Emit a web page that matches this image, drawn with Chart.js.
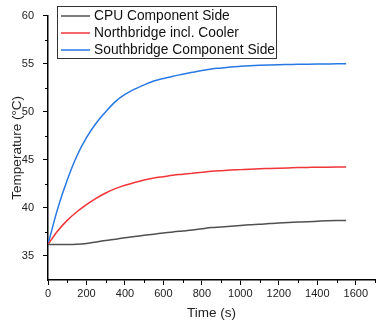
<!DOCTYPE html>
<html>
<head>
<meta charset="utf-8">
<script src="https://cdn.jsdelivr.net/npm/chart.js@4/dist/chart.umd.min.js"></script>
<style>
    html, body { margin: 0; padding: 0; background: #fff; }
    #wrap { width: 377px; height: 324px; }
</style>
</head>
<body>
<div id="wrap"><canvas id="tempChart" width="377" height="324"></canvas></div>
<script>
    // 時間 (s)
    const timeSec = [0, 50, 100, 150, 200, 250, 300, 350, 400, 450, 500, 550, 600, 650, 700, 750,
        800, 850, 900, 950, 1000, 1050, 1100, 1150, 1200, 1250, 1300, 1350, 1400, 1450, 1500, 1550];

    // 各系列の温度 (°C)
    const cpuSide = [36.2, 36.2, 36.2, 36.22, 36.3, 36.45, 36.62, 36.75, 36.9, 37.02, 37.15, 37.27,
        37.38, 37.5, 37.6, 37.7, 37.83, 37.95, 38.02, 38.1, 38.18, 38.25, 38.3, 38.37, 38.42, 38.47,
        38.52, 38.57, 38.61, 38.65, 38.68, 38.7];
    const northbridge = [36.2, 37.6, 38.7, 39.6, 40.35, 41.0, 41.55, 42.0, 42.35, 42.65, 42.9, 43.1,
        43.25, 43.4, 43.5, 43.6, 43.7, 43.8, 43.87, 43.93, 43.98, 44.03, 44.07, 44.1, 44.13, 44.16,
        44.19, 44.21, 44.23, 44.24, 44.25, 44.26];
    const southbridge = [36.2, 39.9, 42.9, 45.4, 47.3, 48.8, 50.0, 51.05, 51.8, 52.35, 52.8, 53.2,
        53.45, 53.7, 53.9, 54.1, 54.3, 54.45, 54.55, 54.65, 54.72, 54.78, 54.83, 54.87, 54.9, 54.92,
        54.94, 54.95, 54.96, 54.97, 54.98, 54.98];

    const seriesLabels = ['CPU Component Side', 'Northbridge incl. Cooler', 'Southbridge Component Side'];
    const seriesColors = ['rgb(80, 80, 80)', 'rgb(240, 52, 56)', 'rgb(40, 120, 228)'];

    const FONT = 'Arial, "Liberation Sans", sans-serif';

    function toPoints(values) {
        return values.map((v, i) => ({ x: timeSec[i], y: v }));
    }

    /**
     * 副目盛り（短い目盛り）と凡例ボックスを描画
     */
    const extrasPlugin = {
        id: 'extras',
        afterDraw(chart) {
            const ctx = chart.ctx;
            const xs = chart.scales.x;
            const ys = chart.scales.y;
            const area = chart.chartArea;

            ctx.save();
            ctx.strokeStyle = '#000';
            ctx.lineWidth = 1;
            // x 副目盛り
            for (let v = 100; v <= 1700; v += 200) {
                const px = Math.round(xs.getPixelForValue(v)) + 0.5;
                ctx.beginPath();
                ctx.moveTo(px, area.bottom);
                ctx.lineTo(px, area.bottom + 3);
                ctx.stroke();
            }
            // y 副目盛り
            for (let v = 37.5; v < 60; v += 5) {
                const py = Math.round(ys.getPixelForValue(v)) + 0.5;
                ctx.beginPath();
                ctx.moveTo(area.left, py);
                ctx.lineTo(area.left - 3, py);
                ctx.stroke();
            }

            // 凡例
            const box = { x: 57.5, y: 6.5, w: 219, h: 52 };
            ctx.fillStyle = '#fff';
            ctx.fillRect(box.x, box.y, box.w, box.h);
            ctx.strokeStyle = '#333';
            ctx.lineWidth = 1;
            ctx.strokeRect(box.x, box.y, box.w, box.h);
            ctx.font = '13.8px ' + FONT;
            ctx.textBaseline = 'middle';
            ctx.textAlign = 'left';
            chart.data.datasets.forEach((ds, i) => {
                const y = 16 + i * 17;
                ctx.strokeStyle = ds.borderColor;
                ctx.lineWidth = 1.5;
                ctx.beginPath();
                ctx.moveTo(61, y);
                ctx.lineTo(90, y);
                ctx.stroke();
                ctx.fillStyle = '#111';
                ctx.fillText(ds.label, 94, y + 0.5);
            });
            ctx.restore();
        }
    };

    const ctx = document.getElementById('tempChart').getContext('2d');
    new Chart(ctx, {
        type: 'line',
        data: {
            datasets: [cpuSide, northbridge, southbridge].map((vals, i) => ({
                label: seriesLabels[i],
                data: toPoints(vals),
                borderColor: seriesColors[i],
                backgroundColor: seriesColors[i],
                borderWidth: 1.5,
                pointRadius: 0,
                cubicInterpolationMode: 'monotone',
                fill: false
            }))
        },
        options: {
            responsive: false,
            animation: false,
            layout: { padding: { top: 14, right: 0, left: 0, bottom: 0 } },
            plugins: {
                legend: { display: false },
                tooltip: { enabled: false }
            },
            scales: {
                x: {
                    type: 'linear',
                    min: 0,
                    max: 1700,
                    afterFit(scale) { scale.height = 44; },
                    border: { display: true, color: '#000', width: 1.5 },
                    grid: {
                        drawOnChartArea: false,
                        drawTicks: true,
                        tickLength: 5,
                        tickColor: c => (c.tick && c.tick.value % 200 === 0) ? '#000' : 'rgba(0,0,0,0)'
                    },
                    ticks: {
                        stepSize: 100,
                        autoSkip: false,
                        maxRotation: 0,
                        padding: 2,
                        color: '#222',
                        font: { family: FONT, size: 11 },
                        callback: v => (v % 200 === 0 && v <= 1600) ? String(v) : ''
                    },
                    title: {
                        display: true,
                        text: 'Time (s)',
                        color: '#222',
                        font: { family: FONT, size: 13.5 },
                        padding: { top: 0, bottom: 3 }
                    }
                },
                y: {
                    min: 32.5,
                    max: 60,
                    afterFit(scale) { scale.width = 48; },
                    border: { display: true, color: '#000', width: 1.5 },
                    grid: {
                        drawOnChartArea: false,
                        drawTicks: true,
                        tickLength: 5,
                        tickColor: c => (c.tick && c.tick.value % 5 === 0) ? '#000' : 'rgba(0,0,0,0)'
                    },
                    ticks: {
                        stepSize: 2.5,
                        autoSkip: false,
                        padding: 9,
                        color: '#222',
                        font: { family: FONT, size: 11 },
                        callback: v => (v % 5 === 0) ? String(v) : ''
                    },
                    title: {
                        display: true,
                        text: 'Temperature (°C)',
                        color: '#222',
                        font: { family: FONT, size: 13.5 },
                        padding: { top: 9, bottom: 0 }
                    }
                }
            }
        },
        plugins: [extrasPlugin]
    });
</script>
</body>
</html>
